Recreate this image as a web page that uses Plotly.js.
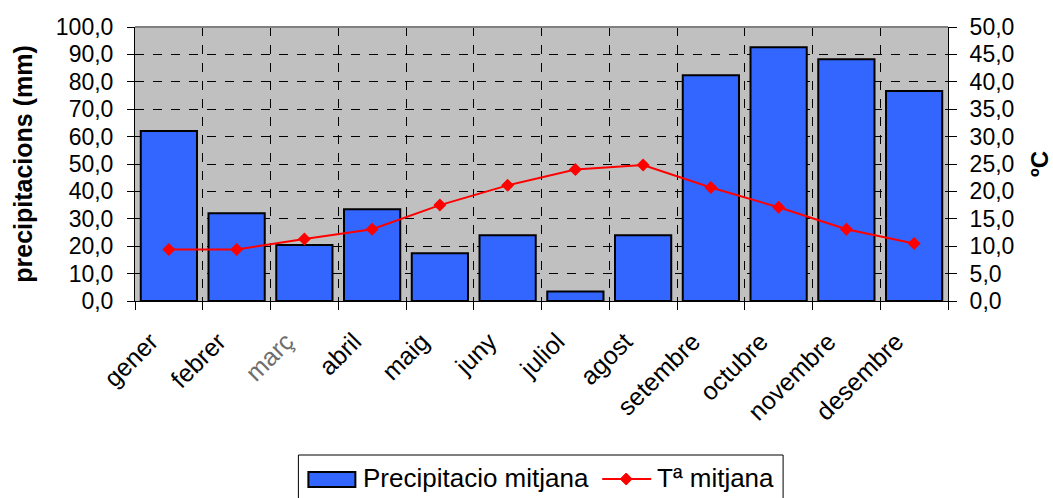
<!DOCTYPE html>
<html>
<head>
<meta charset="utf-8">
<script src="https://cdn.plot.ly/plotly-3.0.1.min.js"></script>
<style>html,body{margin:0;padding:0;background:#fff;}#chart{width:1053px;height:498px;}</style>
</head>
<body>
<div id="chart"></div>
<script>
const months = ["gener","febrer","març","abril","maig","juny","juliol","agost","setembre","octubre","novembre","desembre"];
const monthLabels = ["gener","febrer","<span style='color:#6e6e6e'>març</span>","abril","maig","juny","juliol","agost","setembre","octubre","novembre","desembre"];
const precipitation = [62.0, 32.0, 20.4, 33.5, 17.4, 24.0, 3.5, 24.0, 82.4, 92.6, 88.2, 76.6];
const temperature = [9.4, 9.4, 11.3, 13.1, 17.5, 21.1, 24.0, 24.8, 20.7, 17.1, 13.1, 10.5];
const yTicks = [0,10,20,30,40,50,60,70,80,90,100];
const y2Ticks = [0,5,10,15,20,25,30,35,40,45,50];
const seriesNames = ["Precipitacio mitjana", "Tª mitjana"];
const fmt = v => v.toFixed(1).replace('.', ',');

const font = "Liberation Sans, Arial, sans-serif";
const W = 1053, H = 498, L = 134.5, R = 105, T = 27, B = 197;
const PW = W - L - R, PH = H - T - B;
const px = x => (x - L) / PW;
const py = y => (T + PH - y) / PH;

const traces = [
  {
    type: 'bar', name: seriesNames[0], x: months, y: precipitation,
    marker: {color: '#3366ff', line: {color: '#000000', width: 2}},
    yaxis: 'y', hoverinfo: 'skip'
  },
  {
    type: 'scatter', mode: 'lines+markers', name: seriesNames[1], x: months, y: temperature,
    line: {color: '#ff0000', width: 2},
    marker: {symbol: 'diamond', size: 10, color: '#ff0000'},
    yaxis: 'y2', hoverinfo: 'skip'
  }
];

// custom legend (box, symbols, texts)
const dX = 626, dY = 479, dR = 6;
const shapes = [
  {type: 'line', xref: 'paper', yref: 'paper', x0: 0, x1: 1, y0: 1, y1: 1, line: {color: '#808080', width: 2}},
  {type: 'rect', xref: 'paper', yref: 'paper', x0: px(298), x1: px(783), y0: py(455), y1: py(520), line: {color: '#000000', width: 1}, fillcolor: '#ffffff'},
  {type: 'rect', xref: 'paper', yref: 'paper', x0: px(308), x1: px(355), y0: py(472), y1: py(487), line: {color: '#000000', width: 2}, fillcolor: '#3366ff'},
  {type: 'line', xref: 'paper', yref: 'paper', x0: px(602), x1: px(651), y0: py(dY), y1: py(dY), line: {color: '#ff0000', width: 2}},
  {type: 'path', xref: 'paper', yref: 'paper',
   path: `M${px(dX)},${py(dY - dR)} L${px(dX + dR)},${py(dY)} L${px(dX)},${py(dY + dR)} L${px(dX - dR)},${py(dY)} Z`,
   fillcolor: '#ff0000', line: {color: '#ff0000', width: 1}}
];
const annotations = [
  {xref: 'paper', yref: 'paper', x: px(361), y: py(478), xanchor: 'left', yanchor: 'middle', showarrow: false,
   text: seriesNames[0], font: {family: font, size: 26, color: '#000000'}},
  {xref: 'paper', yref: 'paper', x: px(655), y: py(478), xanchor: 'left', yanchor: 'middle', showarrow: false,
   text: seriesNames[1], font: {family: font, size: 26, color: '#000000'}}
];

const layout = {
  width: W, height: H,
  margin: {l: L, r: R, t: T, b: B, autoexpand: false},
  paper_bgcolor: '#ffffff', plot_bgcolor: '#c0c0c0',
  font: {family: font, color: '#000000', size: 21},
  bargap: 0.17,
  showlegend: false,
  xaxis: {
    type: 'category', range: [-0.5, months.length - 0.5], tickmode: 'array', tickvals: months, ticktext: monthLabels,
    tickangle: -45, tickson: 'boundaries', ticks: 'outside', ticklen: 8, tickcolor: '#000000', tickwidth: 1,
    showgrid: true, gridcolor: '#000000', griddash: 'dash', gridwidth: 1,
    showline: true, linecolor: '#000000', linewidth: 1,
    tickfont: {family: font, size: 25, color: '#000000'},
    ticklabelstandoff: 15, ticklabelshift: -18,
    zeroline: false, fixedrange: true, automargin: false
  },
  yaxis: {
    range: [0, 100], tickmode: 'array', tickvals: yTicks, ticktext: yTicks.map(fmt),
    ticks: 'outside', ticklen: 7, tickcolor: '#000000',
    showgrid: true, gridcolor: '#000000', griddash: 'dash', gridwidth: 1,
    showline: true, linecolor: '#000000', linewidth: 1, zeroline: false,
    tickfont: {family: font, size: 23, color: '#000000'},
    ticklabelstandoff: 9,
    title: {text: '<b>precipitacions (mm)</b>', font: {family: font, size: 25, color: '#000000'}, standoff: 16},
    fixedrange: true, automargin: false
  },
  yaxis2: {
    range: [0, 50], overlaying: 'y', side: 'right', tickmode: 'array', tickvals: y2Ticks, ticktext: y2Ticks.map(fmt),
    ticks: 'outside', ticklen: 8, tickcolor: '#000000',
    showgrid: false, showline: true, linecolor: '#000000', linewidth: 1, zeroline: false,
    tickfont: {family: font, size: 23, color: '#000000'},
    ticklabelstandoff: 8,
    title: {text: '<b>ºC</b>', font: {family: font, size: 24, color: '#000000'}, standoff: 23},
    fixedrange: true, automargin: false
  },
  yaxis3: {
    range: [0, 100], overlaying: 'y', side: 'left', tickmode: 'array', tickvals: yTicks,
    ticks: 'inside', ticklen: 8, tickcolor: '#000000', showticklabels: false,
    showgrid: false, showline: false, zeroline: false, fixedrange: true
  },
  yaxis4: {
    range: [0, 50], overlaying: 'y', side: 'right', tickmode: 'array', tickvals: y2Ticks,
    ticks: 'inside', ticklen: 8, tickcolor: '#000000', showticklabels: false,
    showgrid: false, showline: false, zeroline: false, fixedrange: true
  },
  shapes: shapes,
  annotations: annotations
};

Plotly.newPlot('chart', traces, layout, {displayModeBar: false, staticPlot: true});
</script>
</body>
</html>
